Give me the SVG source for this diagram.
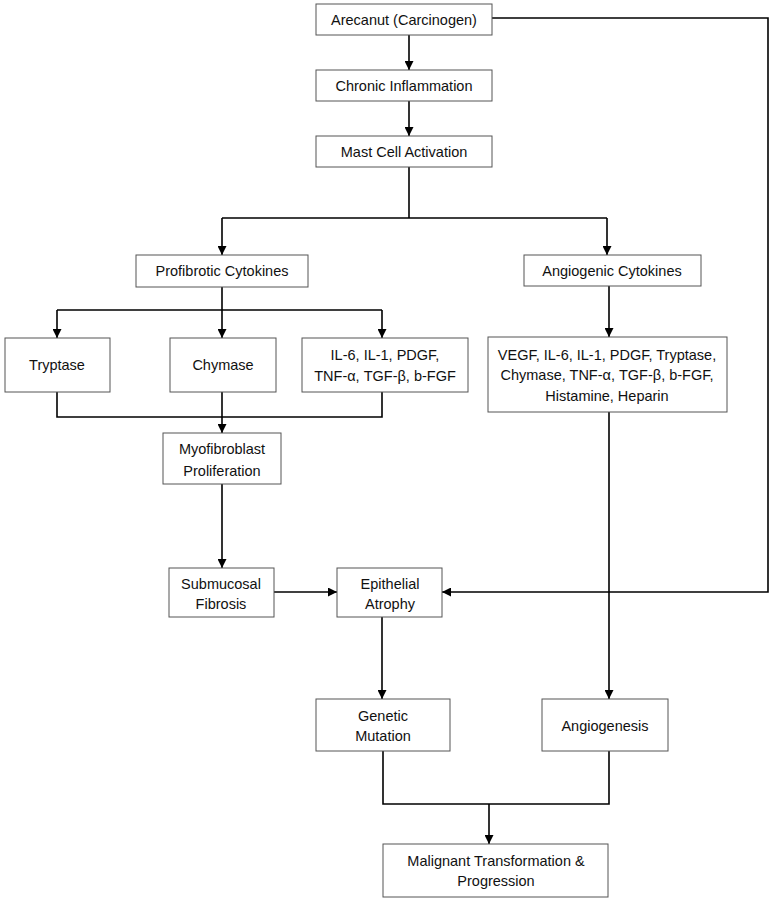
<svg xmlns="http://www.w3.org/2000/svg" width="775" height="902" viewBox="0 0 775 902">
<defs>
<marker id="ah" viewBox="0 0 10 10" refX="10" refY="5" markerWidth="10" markerHeight="9" markerUnits="userSpaceOnUse" orient="auto">
<path d="M0,0 L10,5 L0,10 z" fill="#000"/>
</marker>
<style>
rect{fill:#fff;stroke:#555;stroke-width:1}
text{font-family:"Liberation Sans",Arial,sans-serif;font-size:14.5px;fill:#111;text-anchor:middle}
.c path{fill:none;stroke:#000;stroke-width:1.6}
.a{marker-end:url(#ah)}
</style>
</defs>
<rect x="0" y="0" width="775" height="902" style="fill:#fff;stroke:none"/>
<g class="c" id="connectors">
<path class="a" d="M409,35 V70"/>
<path class="a" d="M409,101 V136"/>
<path d="M409,167 V218"/>
<path class="a" d="M222,218 H607 M222,218 V255"/>
<path class="a" d="M607,218 V255"/>
<path d="M222,287 V310 M57,310 H382"/>
<path class="a" d="M57,310 V338"/>
<path class="a" d="M222,310 V338"/>
<path class="a" d="M382,310 V338"/>
<path class="a" d="M609,286 V337"/>
<path d="M57,392 V417 H382 V392"/>
<path class="a" d="M222,392 V433"/>
<path class="a" d="M222,484 V568"/>
<path class="a" d="M274,592 H337"/>
<path class="a" d="M492,18 H768 V592 H442"/>
<path class="a" d="M382,617 V699"/>
<path class="a" d="M609,412 V699"/>
<path d="M383,751 V804 H609 V751"/>
<path class="a" d="M489,804 V844"/>
</g>
<g id="arecanut"><rect x="316" y="4" width="176" height="31"/><text x="404" y="25">Arecanut (Carcinogen)</text></g>
<g id="chronic"><rect x="316" y="70" width="176" height="31"/><text x="404" y="91">Chronic Inflammation</text></g>
<g id="mast"><rect x="316" y="136" width="176" height="31"/><text x="404" y="157">Mast Cell Activation</text></g>
<g id="profibrotic"><rect x="136" y="255" width="172" height="32"/><text x="222" y="276">Profibrotic Cytokines</text></g>
<g id="angiogenic"><rect x="524" y="255" width="177" height="31"/><text x="612" y="276">Angiogenic Cytokines</text></g>
<g id="tryptase"><rect x="5" y="338" width="105" height="54"/><text x="57" y="370">Tryptase</text></g>
<g id="chymase"><rect x="170" y="338" width="106" height="54"/><text x="223" y="370">Chymase</text></g>
<g id="il6"><rect x="302" y="338" width="166" height="54"/><text x="385" y="360">IL-6, IL-1, PDGF,</text><text x="385" y="381">TNF-α, TGF-β, b-FGF</text></g>
<g id="vegf"><rect x="488" y="337" width="239" height="75"/><text x="607" y="360">VEGF, IL-6, IL-1, PDGF, Tryptase,</text><text x="607" y="380">Chymase, TNF-α, TGF-β, b-FGF,</text><text x="607" y="401">Histamine, Heparin</text></g>
<g id="myofibroblast"><rect x="163" y="433" width="118" height="51"/><text x="222" y="454">Myofibroblast</text><text x="222" y="476">Proliferation</text></g>
<g id="submucosal"><rect x="169" y="568" width="105" height="49"/><text x="221" y="589">Submucosal</text><text x="221" y="609">Fibrosis</text></g>
<g id="epithelial"><rect x="337" y="568" width="105" height="49"/><text x="390" y="589">Epithelial</text><text x="390" y="609">Atrophy</text></g>
<g id="genetic"><rect x="316" y="699" width="134" height="52"/><text x="383" y="721">Genetic</text><text x="383" y="741">Mutation</text></g>
<g id="angiogenesis"><rect x="542" y="699" width="126" height="52"/><text x="605" y="731">Angiogenesis</text></g>
<g id="malignant"><rect x="383" y="844" width="225" height="53"/><text x="496" y="866">Malignant Transformation &amp;</text><text x="496" y="886">Progression</text></g>
</svg>
